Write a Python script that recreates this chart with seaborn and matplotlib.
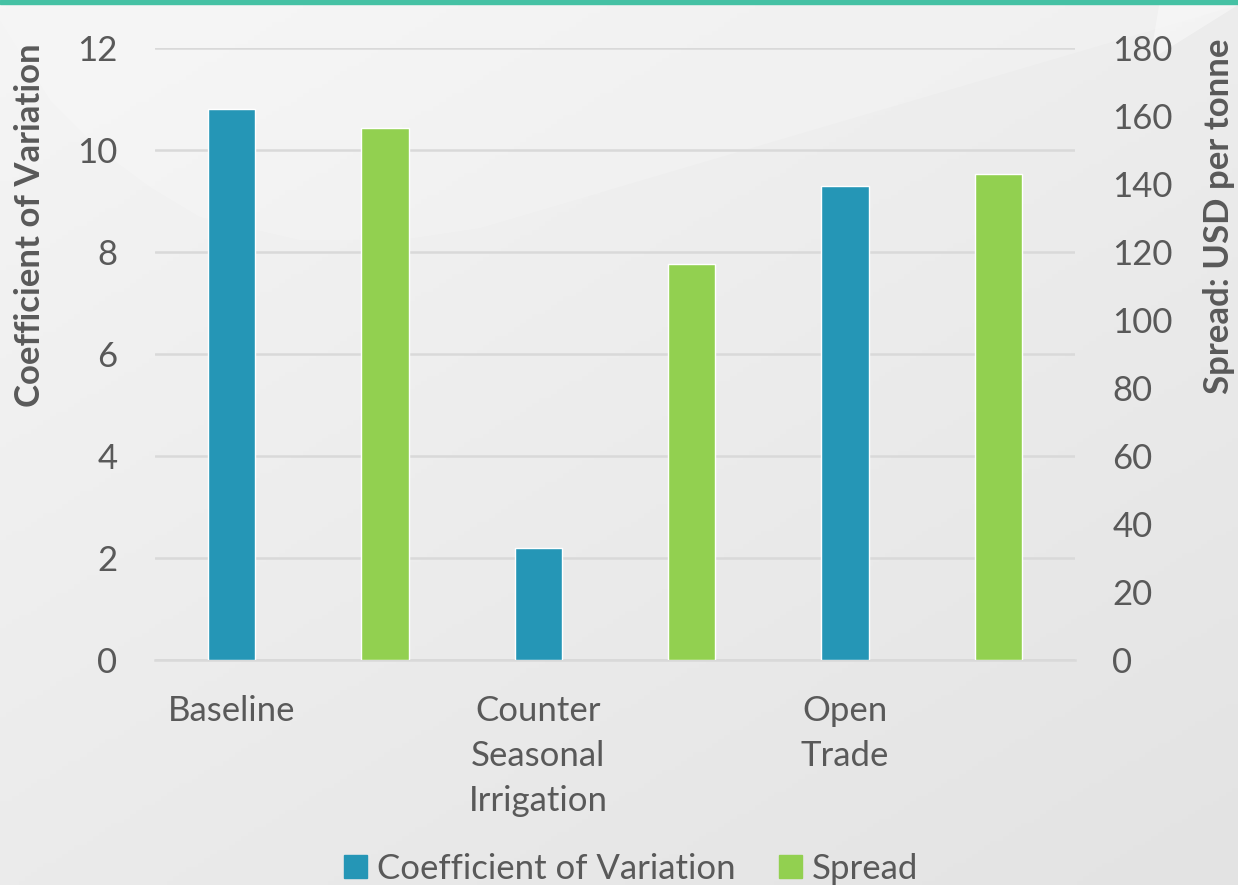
import numpy as np
import pandas as pd
import matplotlib.pyplot as plt
import seaborn as sns
from matplotlib.patches import Patch, Polygon

categories = ["Baseline", "Counter\nSeasonal\nIrrigation", "Open\nTrade"]
cv_values = [10.8, 2.2, 9.3]
spread_values = [156.5, 116.5, 142.8]

blue = "#2596b6"
green = "#92d050"
text_gray = "#595959"

sns.set_theme(style="white")
plt.rcParams["font.family"] = ["Lato", "DejaVu Sans"]

# each category gets two slots: CV bar then Spread bar
slots = []
for i in range(len(categories)):
    slots += [f"cv{i}", f"sp{i}"]
cv_df = pd.DataFrame({"slot": [f"cv{i}" for i in range(3)], "value": cv_values})
sp_df = pd.DataFrame({"slot": [f"sp{i}" for i in range(3)], "value": spread_values})

W, H = 1238, 885
fig = plt.figure(figsize=(W / 100, H / 100), dpi=100)

# background: soft grey gradient + light swoosh + teal top stripe (pixel coords)
bg = fig.add_axes([0, 0, 1, 1], zorder=-10)
yy, xx = np.mgrid[0:1:200j, 0:1:200j]
grad = 0.45 * xx + 0.55 * yy
bg.imshow(grad, cmap=sns.blend_palette(["#f5f5f5", "#e3e3e3"], as_cmap=True),
          extent=[0, W, H, 0], aspect="auto")
curve = np.array([(0, 20), (50, 100), (100, 150), (150, 187), (200, 217),
                  (300, 240), (400, 240), (480, 228)])
for k in range(1, 10):
    shifted = curve + [0, 20 * k]
    pts = np.vstack([curve, shifted[::-1]])
    bg.add_patch(Polygon(pts, closed=True, color="white", alpha=0.05, lw=0))
bg.add_patch(Polygon(np.vstack([curve, [(1238, 5), (1238, 0), (0, 0)]]),
                     closed=True, color="white", alpha=0.18, lw=0))
bg.add_patch(Polygon([(1238, 0), (1238, 5), (1150, 60), (1160, 0)],
                     closed=True, color="white", alpha=0.4, lw=0))
bg.axhspan(0, 4, color="#45c1a4")
bg.set_xlim(0, W)
bg.set_ylim(H, 0)
bg.axis("off")

ax = fig.add_axes([155 / W, 1 - 660 / H, 920 / W, 612 / H])
ax.patch.set_alpha(0)
sns.barplot(data=cv_df, x="slot", y="value", order=slots, color=blue,
            width=0.31, saturation=1, ax=ax, zorder=3)
ax2 = ax.twinx()
sns.barplot(data=sp_df, x="slot", y="value", order=slots, color=green,
            width=0.31, saturation=1, ax=ax2, zorder=3)

ax.set_ylim(0, 12)
ax.set_yticks(range(0, 13, 2))
ax2.set_ylim(0, 180)
ax2.set_yticks(range(0, 181, 20))
ax.set_xlim(-0.5, 5.5)
ax.set_xticks([0, 2, 4])
ax.set_xticklabels(categories, linespacing=1.5)

ax.yaxis.grid(True, color="#d9d9d9", lw=1.8)
ax.set_axisbelow(True)
for a in (ax, ax2):
    for s in a.spines.values():
        s.set_visible(False)
    a.tick_params(length=0, labelsize=25, colors=text_gray)
ax.tick_params(axis="x", pad=25)
ax.tick_params(axis="y", pad=27)
ax2.tick_params(axis="y", pad=27)
ax.spines["bottom"].set_visible(True)
ax.spines["bottom"].set_color("#d9d9d9")
ax.spines["bottom"].set_linewidth(1.8)

ax.set_xlabel("")
ax.set_ylabel("")
ax2.set_ylabel("")
fig.text(30 / W, 1 - 43 / H, "Coefficient of Variation", rotation=90,
         ha="center", va="top", fontsize=25, fontweight="bold", color=text_gray)
fig.text(1219 / W, 1 - 38 / H, "Spread: USD per tonne", rotation=90,
         ha="center", va="top", fontsize=25, fontweight="bold", color=text_gray)

handles = [Patch(color=blue, label="Coefficient of Variation"),
           Patch(color=green, label="Spread")]
fig.legend(handles=handles, loc="lower center", bbox_to_anchor=(0.51, -0.035),
           ncol=2, frameon=False, fontsize=25, handlelength=0.65, handleheight=0.65,
           handletextpad=0.3, columnspacing=1.25, labelcolor=text_gray)

fig.savefig("out.png", dpi=100)
